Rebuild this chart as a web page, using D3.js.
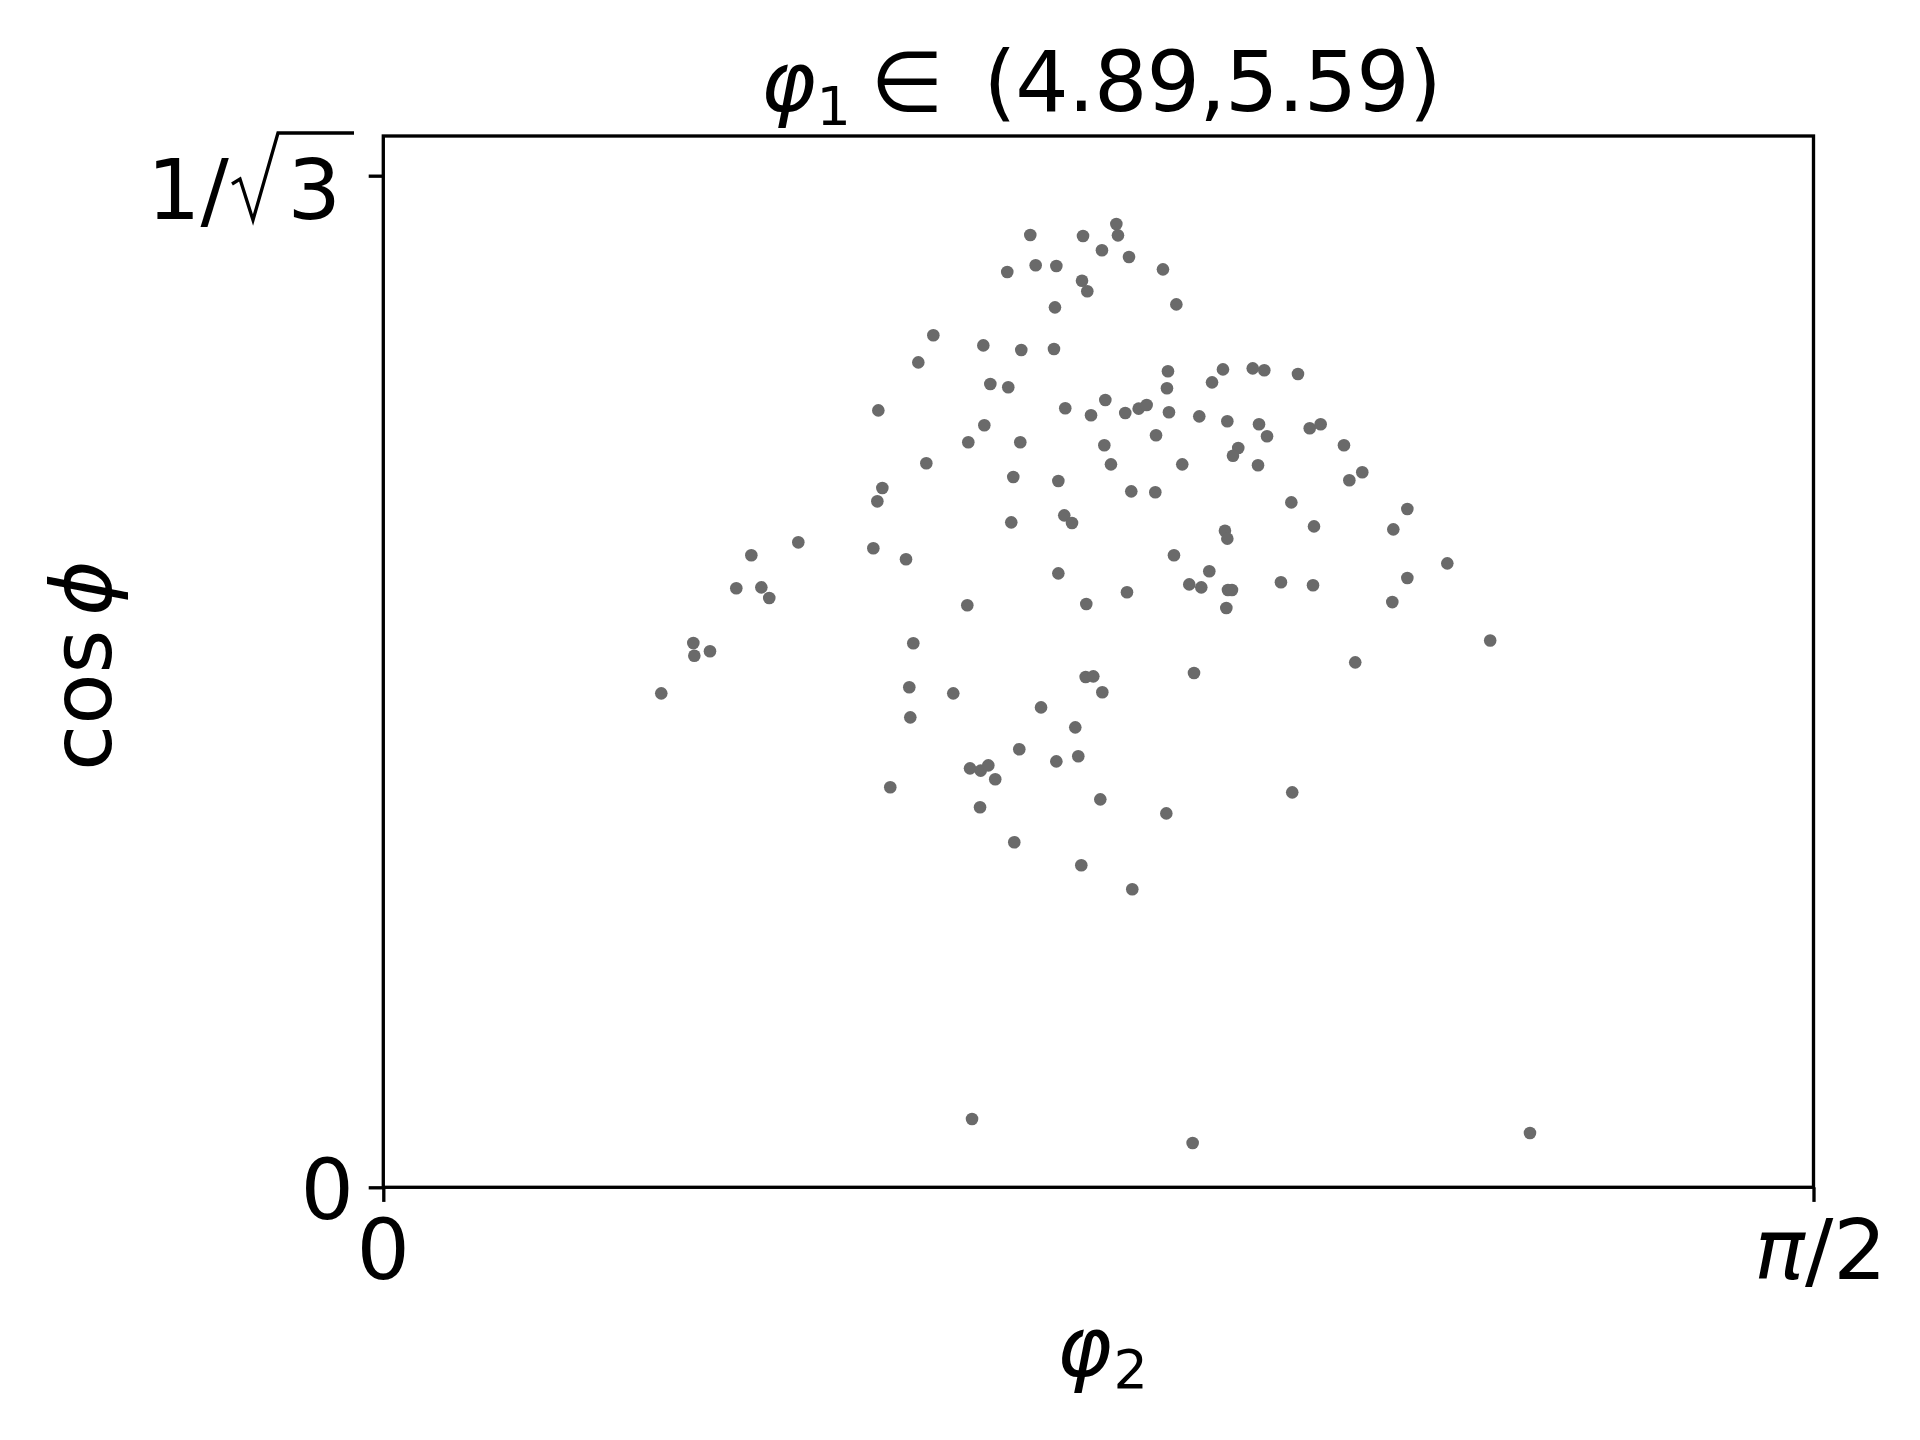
<!DOCTYPE html>
<html>
<head>
<meta charset="utf-8">
<script src="https://cdn.jsdelivr.net/npm/d3@7"></script>
<style>
body { margin: 0; background: #fff; }
svg text { font-family: "DejaVu Sans", sans-serif; fill: #000; }
</style>
</head>
<body>
<svg id="chart"></svg>
<script>
// phi_2 (rad) and cos(phi)
const phi2 = [
  0.7106, 0.7165, 0.6853, 0.6041, 0.6590, 0.7007, 0.5876, 0.6667, 0.6864, 0.5437,
  0.6601, 0.6425, 0.6996, 0.5964, 0.6919, 0.5481, 0.5426, 0.6897, 0.4558, 0.5382,
  0.4042, 0.5741, 0.3877, 0.4152, 0.4239, 0.6414,
  0.8051, 0.8069, 0.7685, 0.7893, 0.8190, 0.7392, 0.8563, 0.7674, 0.7732, 0.7377,
  0.8710, 0.7366, 0.8618, 0.9222, 0.9549, 0.9676, 1.0046, 0.9102, 0.8607, 0.7490,
  0.7930, 0.7773, 0.8149, 0.8296, 0.8384, 0.8629, 0.8962, 0.9270, 0.9618, 0.9706,
  1.0175, 1.0295, 0.8487, 0.7919, 0.9390, 0.9332, 1.0551, 0.7992, 0.8775, 0.9607,
  0.7414, 1.0752, 1.0610, 0.8215, 0.8479, 0.9973, 1.1247, 0.7479, 0.7564, 0.9244,
  0.9270, 1.0222, 1.1093, 0.8684, 0.7414, 0.9072, 0.8852, 0.8984, 0.9277, 0.9321,
  0.9859, 1.0211, 1.1247, 0.8168, 0.7721, 1.1082,
  0.9259, 1.0675, 0.7714, 0.7798, 0.8904, 0.7897, 0.7224, 0.7600, 0.7392, 0.7633,
  0.7875, 0.8600, 0.9983, 0.7666, 0.8226,
  0.3405, 0.3416, 0.3588, 0.3053, 0.5821, 0.5777, 0.6260, 0.5788, 0.6985, 0.6444,
  0.6561, 0.6645, 0.6721, 0.5568, 0.6554, 0.6930,
  1.1686, 1.2157, 1.2594, 0.6466, 0.8889
];
const cosPhi = [
  0.5435, 0.5262, 0.5224, 0.4863, 0.4805, 0.4779, 0.4708, 0.4585, 0.4566, 0.4434,
  0.4349, 0.4252, 0.4252, 0.4132, 0.4054, 0.3991, 0.3915, 0.3795, 0.3681, 0.3647,
  0.3607, 0.3584, 0.3419, 0.3424, 0.3363, 0.3322,
  0.5498, 0.5433, 0.5429, 0.5348, 0.5309, 0.5258, 0.5239, 0.5174, 0.5114, 0.5022,
  0.5039, 0.4784, 0.4657, 0.4668, 0.4674, 0.4663, 0.4642, 0.4594, 0.4560, 0.4446,
  0.4493, 0.4406, 0.4419, 0.4444, 0.4465, 0.4423, 0.4400, 0.4372, 0.4355, 0.4286,
  0.4332, 0.4355, 0.4292, 0.4235, 0.4219, 0.4175, 0.4235, 0.4126, 0.4126, 0.4121,
  0.4031, 0.4081, 0.4035, 0.3972, 0.3967, 0.3909, 0.3871, 0.3835, 0.3791, 0.3747,
  0.3702, 0.3772, 0.3755, 0.3607, 0.3504, 0.3516, 0.3441, 0.3424, 0.3409, 0.3409,
  0.3453, 0.3436, 0.3477, 0.3396, 0.3329, 0.3340,
  0.3306, 0.2996, 0.2912, 0.2916, 0.2935, 0.2825, 0.2739, 0.2625, 0.2431, 0.2460,
  0.2214, 0.2134, 0.2254, 0.1838, 0.1701,
  0.3106, 0.3034, 0.3059, 0.2819, 0.3105, 0.2854, 0.2819, 0.2682, 0.2500, 0.2391,
  0.2378, 0.2408, 0.2329, 0.2283, 0.2169, 0.1969,
  0.3561, 0.3121, 0.0310, 0.0390, 0.0253
];
const xTicks = [0, Math.PI / 2];
const yTicks = [0, 1 / Math.sqrt(3)];
const phi1Range = ["4.89", "5.59"];

const width = 1920, height = 1440;
const marginLeft = 383.3, marginRight = 1920 - 1813.5;
const marginTop = 136, marginBottom = 1440 - 1187.3;
const fs = 84, subFs = 54, lw = 3.33, tickLen = 14.6;
const dotColor = "#6a6a6a";

const svg = d3.select("#chart").attr("width", width).attr("height", height);
svg.append("rect").attr("width", width).attr("height", height).attr("fill", "#fff");

const x = d3.scaleLinear().domain([0, Math.PI / 2]).range([marginLeft, width - marginRight]);
const y = d3.scaleLinear().domain([0, 0.6]).range([height - marginBottom, marginTop]);

// points
svg.append("g")
  .selectAll("circle")
  .data(d3.zip(phi2, cosPhi))
  .join("circle")
  .attr("cx", d => x(d[0]))
  .attr("cy", d => y(d[1]))
  .attr("r", 6.3)
  .attr("fill", dotColor);

// axes (tick marks only, labels are drawn by hand below)
const gx = svg.append("g")
  .attr("transform", `translate(0,${y(0)})`)
  .call(d3.axisBottom(x).tickValues(xTicks).tickSize(tickLen).tickSizeOuter(0).tickFormat(""));
const gy = svg.append("g")
  .attr("transform", `translate(${x(0)},0)`)
  .call(d3.axisLeft(y).tickValues(yTicks).tickSize(tickLen).tickSizeOuter(0).tickFormat(""));
for (const g of [gx, gy]) {
  g.select(".domain").remove();
  g.selectAll(".tick line").attr("stroke", "#000").attr("stroke-width", lw);
  g.selectAll(".tick text").remove();
}

// frame
svg.append("rect")
  .attr("x", x(0)).attr("y", y(0.6))
  .attr("width", x(Math.PI / 2) - x(0))
  .attr("height", y(0) - y(0.6))
  .attr("fill", "none").attr("stroke", "#000").attr("stroke-width", lw);

// x tick labels
const xBase = y(0) + 92;
svg.append("text").attr("x", x(xTicks[0])).attr("y", xBase)
  .attr("text-anchor", "middle").attr("font-size", fs).text("0");
const piLab = svg.append("text").attr("x", x(xTicks[1]) + 7).attr("y", xBase)
  .attr("text-anchor", "middle").attr("font-size", fs);
piLab.append("tspan").attr("font-style", "italic").text("π");
piLab.append("tspan").text("/2");

// y tick labels
const R = x(0) - 29.3;
svg.append("text").attr("x", R).attr("y", y(yTicks[0]) + 31.7)
  .attr("text-anchor", "end").attr("font-size", fs).text("0");
const B = y(yTicks[1]) + 43.3;
svg.append("text").attr("x", R - 207).attr("y", B).attr("font-size", fs).text("1/");
svg.append("text").attr("x", R - 13).attr("y", B)
  .attr("text-anchor", "end").attr("font-size", fs).text("3");
svg.append("path")
  .attr("d", `M${R - 122},${B - 35} L${R - 114},${B - 40} L${R - 101},${B + 1} L${R - 76},${B - 86} L${R},${B - 86}`)
  .attr("fill", "none").attr("stroke", "#000").attr("stroke-width", lw)
  .attr("stroke-linejoin", "miter");

// title
const cx = (x(0) + x(Math.PI / 2)) / 2;
const tBase = 111;
const title = svg.append("text").attr("y", tBase).attr("font-size", fs);
title.append("tspan").attr("x", cx - 338).attr("font-style", "italic").text("φ");
title.append("tspan").attr("x", cx - 282).attr("dy", 14).attr("font-size", subFs).text("1");
title.append("tspan").attr("x", cx - 228).attr("dy", -14).text("∈");
title.append("tspan").attr("x", cx - 115).attr("letter-spacing", -0.8)
  .text(`(${phi1Range[0]},${phi1Range[1]})`);

// x label
const xl = svg.append("text").attr("y", 1376).attr("font-size", fs);
xl.append("tspan").attr("x", cx - 42).attr("font-style", "italic").text("φ");
xl.append("tspan").attr("x", cx + 15).attr("dy", 12).attr("font-size", subFs).text("2");

// y label
const yl = svg.append("text")
  .attr("transform", `translate(111,${(y(0) + y(0.6)) / 2 + 4}) rotate(-90)`)
  .attr("text-anchor", "middle").attr("font-size", fs);
yl.append("tspan").text("cos");
yl.append("tspan").attr("dx", 14).attr("font-style", "italic").text("ϕ");
</script>
</body>
</html>
